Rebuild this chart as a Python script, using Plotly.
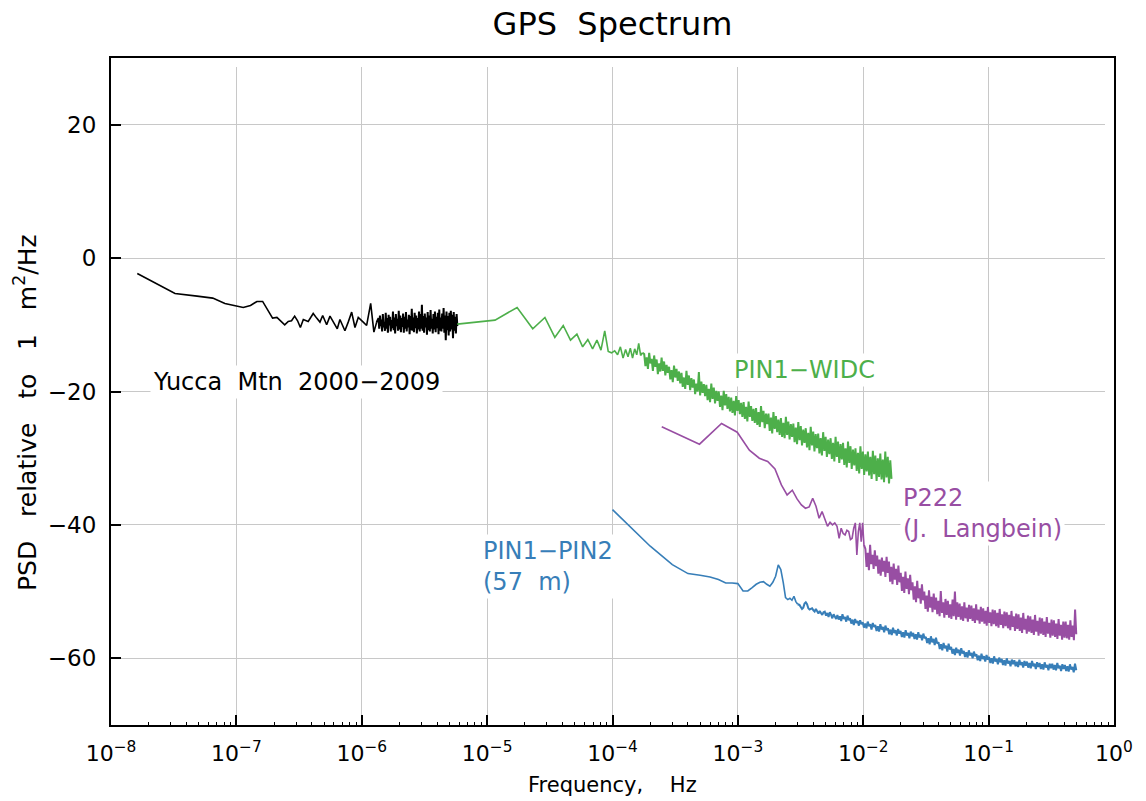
import numpy as np
import plotly.graph_objects as go

# ---------------- axis ticks ----------------
X_TICK_VALS = [1e-8, 1e-7, 1e-6, 1e-5, 1e-4, 1e-3, 1e-2, 1e-1, 1e0]
X_TICK_TEXT = ["10<sup>−8</sup>", "10<sup>−7</sup>", "10<sup>−6</sup>", "10<sup>−5</sup>",
               "10<sup>−4</sup>", "10<sup>−3</sup>", "10<sup>−2</sup>", "10<sup>−1</sup>",
               "10<sup>0</sup>"]
Y_TICK_VALS = [-60, -40, -20, 0, 20]

# ---------------- Yucca Mtn (black) ----------------
BLACK_DF = 1.62e-8
BLACK_BINS = list(range(1, 21))
BLACK_VALS = [-2.3, -5.3, -5.7, -6.0, -6.8, -7.1, -7.4, -7.1, -6.5, -6.5,
              -7.7, -9.0, -8.9, -9.4, -10.0, -9.5, -9.4, -8.7, -9.4, -10.4]
BLACK_MID_F = [3.42e-7, 3.74e-7, 4.10e-7, 4.37e-7, 4.64e-7, 4.88e-7, 5.25e-7, 5.58e-7,
               5.92e-7, 6.38e-7, 6.70e-7, 7.34e-7, 7.80e-7, 8.31e-7, 8.83e-7, 9.38e-7,
               1.028e-6, 1.094e-6, 1.178e-6, 1.25e-6, 1.315e-6]
BLACK_MID_VALS = [-9.2, -9.5, -8.3, -9.0, -9.6, -8.6, -10.0, -8.7,
                  -9.6, -10.6, -9.2, -10.9, -9.6, -8.1, -10.4, -8.9,
                  -9.6, -10.1, -6.8, -11.1, -9.6]
BLACK_BAND_START, BLACK_BAND_END = 1.36e-6, 5.787e-6
BLACK_BAND_VALS = [
    -9.0, -10.6, -8.6, -10.2, -9.2, -11.0, -8.4, -10.4, -9.6, -10.9,
    -8.2, -10.6, -9.0, -11.2, -8.5, -10.1, -8.8, -11.0, -9.3, -10.5,
    -8.0, -10.8, -8.9, -11.3, -8.4, -10.2, -9.1, -10.9, -7.9, -10.7,
    -8.6, -11.1, -9.0, -10.3, -8.3, -11.2, -8.8, -10.6, -8.1, -11.0,
    -9.2, -10.4, -8.5, -11.4, -8.7, -10.8, -7.6, -10.9, -8.9, -11.1,
    -8.2, -10.5, -8.6, -11.3, -9.0, -10.7, -8.0, -11.0, -8.4, -10.6,
    -7.0, -10.9, -8.7, -11.2, -8.3, -10.4, -8.9, -11.5, -8.1, -10.8,
    -8.6, -11.0, -7.8, -10.6, -9.1, -11.3, -8.4, -10.7, -8.0, -11.1,
    -8.8, -10.5, -8.2, -11.4, -7.7, -10.9, -8.9, -11.0, -8.3, -10.6,
    -7.5, -11.2, -8.6, -12.3, -8.0, -10.8, -8.7, -11.6, -8.2, -11.0,
    -7.9, -10.7, -8.5, -12.0, -8.1, -10.9, -8.8, -11.3, -8.4, -10.2]

# ---------------- PIN1-WIDC (green) ----------------
GREEN_DF = 5.78e-6
GREEN_BINS = list(range(1, 31))
GREEN_VALS = [-9.9, -9.3, -7.4, -10.6, -8.9, -11.9, -10.1, -12.3, -11.4, -13.3,
              -12.2, -13.6, -12.3, -13.8, -10.9, -14.0, -14.2, -13.9, -14.5, -13.3,
              -15.0, -13.7, -14.8, -13.5, -15.0, -13.6, -14.5, -12.8, -14.6, -14.2]
GREEN_BAND_START, GREEN_BAND_END = 1.79e-4, 1.68e-2
GREEN_BAND_VALS = [
    -14.4, -16.2, -14.9, -16.6, -14.2, -15.8, -15.1, -16.9, -14.6, -16.3,
    -15.2, -17.4, -15.8, -17.0, -14.9, -16.9, -15.5, -17.6, -16.0, -17.2,
    -16.3, -18.2, -16.8, -18.6, -16.1, -17.9, -16.6, -18.4, -17.0, -18.8,
    -17.2, -19.3, -17.9, -19.6, -16.9, -19.0, -17.6, -19.8, -18.0, -19.4,
    -18.2, -20.4, -18.8, -20.0, -17.1, -20.6, -18.5, -20.2, -18.9, -20.7,
    -19.0, -21.3, -19.6, -21.6, -18.8, -21.1, -19.4, -21.8, -19.9, -21.4,
    -20.0, -22.3, -20.6, -22.8, -19.9, -22.1, -20.4, -22.6, -20.8, -23.0,
    -20.9, -23.2, -21.4, -23.6, -20.7, -22.9, -21.3, -23.4, -21.7, -23.8,
    -21.6, -24.1, -22.3, -24.5, -21.5, -23.8, -22.2, -24.4, -22.6, -24.7,
    -22.5, -25.0, -23.1, -25.3, -22.2, -24.6, -22.9, -25.5, -23.3, -24.9,
    -23.3, -25.9, -23.9, -26.3, -23.1, -25.6, -23.7, -26.1, -24.2, -26.5,
    -24.0, -26.8, -24.7, -27.0, -23.8, -26.5, -24.5, -27.2, -24.9, -26.8,
    -24.8, -27.6, -25.4, -27.9, -24.6, -27.3, -25.2, -28.1, -25.7, -27.7,
    -25.5, -28.4, -26.2, -28.8, -25.3, -28.1, -26.0, -29.0, -26.4, -28.5,
    -26.3, -29.3, -27.0, -29.6, -26.1, -28.9, -26.8, -29.8, -27.2, -29.4,
    -27.0, -30.1, -27.7, -30.5, -26.8, -29.8, -27.5, -30.7, -27.9, -30.2,
    -27.7, -31.0, -28.5, -31.4, -27.5, -30.7, -28.2, -31.6, -28.7, -31.1,
    -28.5, -31.9, -29.2, -32.3, -28.2, -31.6, -29.0, -32.5, -29.4, -32.0,
    -29.0, -32.6, -29.8, -33.1, -28.9, -32.4, -29.6, -33.4, -30.0, -32.8,
    -29.3, -33.2, -30.2, -33.6, -29.0, -32.9, -29.8, -33.8, -30.3, -33.1]

# ---------------- P222 (purple) ----------------
PURPLE_DF = 2.47e-4
PURPLE_BINS = list(range(1, 42))
PURPLE_VALS = [-25.3, -27.9, -24.8, -26.1, -28.8, -30.0, -30.5, -31.6, -34.0, -35.5,
               -34.8, -36.1, -37.0, -37.5, -37.3, -36.0, -37.2, -39.0, -38.0, -39.0,
               -40.2, -39.6, -40.0, -39.7, -40.2, -42.0, -40.5, -41.3, -41.5, -40.8,
               -41.0, -42.2, -42.0, -40.5, -39.7, -44.5, -41.0, -39.7, -42.5, -39.7,
               -43.0]
PURPLE_BAND_START, PURPLE_BAND_END = 1.04e-2, 0.5
PURPLE_BAND_VALS = [
    -43.6, -46.3, -44.2, -46.8, -43.0, -45.9, -44.5, -46.6, -43.8, -46.2,
    -44.6, -47.3, -45.2, -47.6, -44.9, -47.0, -45.4, -47.8, -44.8, -47.2,
    -45.5, -48.5, -46.3, -48.9, -45.8, -48.2, -46.6, -49.0, -46.1, -48.6,
    -47.2, -49.9, -47.8, -50.2, -47.0, -49.6, -48.0, -50.4, -47.5, -49.8,
    -48.6, -51.2, -49.2, -51.6, -48.4, -51.0, -49.5, -51.8, -48.9, -51.3,
    -50.0, -52.6, -50.6, -53.0, -49.8, -52.4, -50.8, -53.1, -50.3, -52.7,
    -50.9, -53.4, -51.4, -53.7, -49.9, -53.2, -51.6, -53.9, -51.1, -53.5,
    -51.4, -53.9, -51.9, -54.1, -51.2, -53.7, -50.0, -54.2, -51.6, -53.8,
    -51.8, -54.2, -52.2, -54.4, -51.6, -54.0, -52.4, -54.5, -52.0, -54.1,
    -52.1, -54.4, -52.5, -54.7, -51.9, -54.3, -52.7, -54.8, -52.3, -54.5,
    -52.5, -54.8, -52.9, -55.1, -52.3, -54.7, -53.1, -55.2, -52.7, -54.9,
    -52.8, -55.2, -53.2, -55.4, -52.6, -55.0, -53.4, -55.5, -53.0, -55.2,
    -53.1, -55.5, -53.5, -55.8, -52.9, -55.3, -53.7, -55.9, -53.3, -55.6,
    -53.4, -55.9, -53.9, -56.2, -53.2, -55.7, -54.1, -56.3, -53.6, -56.0,
    -53.7, -56.2, -54.2, -56.5, -53.5, -56.0, -54.4, -56.6, -53.9, -56.3,
    -54.0, -56.5, -54.5, -56.8, -53.8, -56.3, -54.7, -56.9, -54.2, -56.6,
    -54.3, -56.8, -54.8, -57.1, -54.1, -56.6, -55.0, -57.2, -54.5, -56.9,
    -54.5, -57.0, -55.0, -57.2, -54.3, -56.8, -55.1, -57.3, -52.7, -56.4]

# ---------------- PIN1-PIN2 (blue) ----------------
BLUE_DF = 1.0e-4
BLUE_BINS = list(range(1, 31))
BLUE_VALS = [-37.7, -43.2, -45.95, -47.3, -47.55, -47.8, -48.2, -48.7, -48.7, -48.8,
             -49.9, -49.9, -49.4, -48.9, -48.6, -48.5, -48.9, -49.2, -48.6, -47.7,
             -46.0, -46.7, -48.6, -50.9, -51.2, -51.0, -51.3, -50.7, -51.5, -51.9]
BLUE_BAND_START, BLUE_BAND_END = 3.1e-3, 0.5
BLUE_BAND_VALS = [
    -52.0, -52.3, -52.6, -52.4, -51.8, -51.6, -51.9, -52.5, -52.7, -52.6,
    -52.5, -52.8, -53.0, -52.6, -53.1, -53.3, -52.9, -53.2, -53.5, -53.1,
    -53.0, -53.6, -53.2, -53.8, -53.1, -53.5, -54.0, -53.4, -53.7, -54.1,
    -53.5, -54.2, -53.7, -54.4, -53.4, -54.1, -53.8, -54.5, -53.6, -54.3,
    -54.0, -54.8, -54.2, -55.0, -54.1, -54.7, -54.4, -55.1, -54.3, -54.9,
    -54.6, -55.4, -54.8, -55.5, -54.5, -55.2, -54.9, -55.7, -54.7, -55.3,
    -55.0, -55.9, -55.2, -56.0, -54.9, -55.7, -55.3, -56.1, -55.1, -55.8,
    -55.5, -56.4, -55.7, -56.5, -55.4, -56.2, -55.8, -56.6, -55.6, -56.3,
    -55.9, -56.8, -56.1, -56.9, -55.8, -56.6, -56.2, -57.0, -56.0, -56.7,
    -56.2, -57.1, -56.4, -57.2, -56.1, -56.9, -56.5, -57.3, -56.3, -57.0,
    -56.8, -57.7, -57.0, -57.9, -56.7, -57.6, -57.1, -58.0, -56.9, -57.8,
    -57.6, -58.6, -57.9, -58.8, -57.7, -58.5, -58.1, -59.0, -57.8, -58.7,
    -58.3, -59.3, -58.6, -59.5, -58.4, -59.2, -58.7, -59.6, -58.5, -59.3,
    -58.9, -59.8, -59.1, -59.9, -58.8, -59.6, -59.2, -60.0, -59.0, -59.7,
    -59.4, -60.3, -59.6, -60.4, -59.3, -60.1, -59.7, -60.5, -59.5, -60.2,
    -59.8, -60.7, -60.0, -60.8, -59.7, -60.5, -60.1, -60.9, -59.9, -60.6,
    -60.1, -61.0, -60.3, -61.1, -60.0, -60.8, -60.4, -61.2, -60.2, -60.9,
    -60.3, -61.2, -60.5, -61.3, -60.2, -61.0, -60.6, -61.4, -60.4, -61.1,
    -60.5, -61.4, -60.7, -61.5, -60.4, -61.2, -60.8, -61.6, -60.6, -61.3,
    -60.7, -61.6, -60.9, -61.7, -60.6, -61.4, -61.0, -61.8, -60.8, -61.5,
    -60.8, -61.7, -61.0, -61.8, -60.7, -61.5, -61.1, -61.9, -60.9, -61.6,
    -61.0, -61.9, -61.2, -62.0, -60.9, -61.7, -61.3, -62.1, -60.8, -61.8]

COLORS = {"black": "#000000", "green": "#4daf4a", "purple": "#984ea3", "blue": "#377eb8"}
FONT = "DejaVu Sans"
NB = "\u00a0"


def sparse_part(df, bins, vals, mid_f=None, mid_vals=None):
    f = list(df * np.array(bins, dtype=float))
    v = list(vals)
    if mid_f is not None:
        f += list(mid_f)
        v += list(mid_vals)
    return f, v


def band_part(start, end, vals, prev_f, prev_v):
    # band continues from the last point of the sparse part
    f = [prev_f[-1]] + list(np.geomspace(start, end, len(vals)))
    v = [prev_v[-1]] + list(vals)
    return f, v


series = []
bf, bv = sparse_part(BLACK_DF, BLACK_BINS, BLACK_VALS, BLACK_MID_F, BLACK_MID_VALS)
series.append((COLORS["black"], (bf, bv),
               band_part(BLACK_BAND_START, BLACK_BAND_END, BLACK_BAND_VALS, bf, bv)))
gf, gv = sparse_part(GREEN_DF, GREEN_BINS, GREEN_VALS)
series.append((COLORS["green"], (gf, gv),
               band_part(GREEN_BAND_START, GREEN_BAND_END, GREEN_BAND_VALS, gf, gv)))
pf, pv = sparse_part(PURPLE_DF, PURPLE_BINS, PURPLE_VALS)
series.append((COLORS["purple"], (pf, pv),
               band_part(PURPLE_BAND_START, PURPLE_BAND_END, PURPLE_BAND_VALS, pf, pv)))
uf, uv = sparse_part(BLUE_DF, BLUE_BINS, BLUE_VALS)
series.append((COLORS["blue"], (uf, uv),
               band_part(BLUE_BAND_START, BLUE_BAND_END, BLUE_BAND_VALS, uf, uv)))

fig = go.Figure()
for color, (sx, sy), (dx, dy) in series:
    fig.add_trace(go.Scatter(x=sx, y=sy, mode="lines", line=dict(color=color, width=1.6),
                             showlegend=False, hoverinfo="skip"))
    fig.add_trace(go.Scatter(x=dx, y=dy, mode="lines", line=dict(color=color, width=2.0),
                             showlegend=False, hoverinfo="skip"))

# dummy trace for overlay axes (white inner ticks at top/right like the original)
fig.add_trace(go.Scatter(x=[], y=[], xaxis="x2", yaxis="y2", showlegend=False))

minor_vals = [m * 10.0 ** e for e in range(-8, 0) for m in range(2, 10)]

fig.update_layout(
    template="none",
    width=1146, height=801,
    margin=dict(l=111, r=32, t=58, b=76, pad=0, autoexpand=False),
    paper_bgcolor="white", plot_bgcolor="white",
    font=dict(family=FONT, color="black", size=22),
    title=dict(text="GPS" + NB * 2 + "Spectrum", x=0.5, xref="paper", xanchor="center",
               y=1 - 24 / 801, yref="container", yanchor="middle",
               font=dict(family=FONT, size=32, color="black")),
    xaxis=dict(type="log", range=[-8, 0], tickmode="array", tickvals=X_TICK_VALS,
               ticktext=X_TICK_TEXT, ticks="inside", ticklen=10, tickwidth=2,
               tickcolor="black", showline=True, linecolor="black", linewidth=2,
               mirror=True, showgrid=True, gridcolor="#c8c8c8", gridwidth=1,
               zeroline=False, ticklabelstandoff=8, automargin=False,
               tickfont=dict(family=FONT, size=22, color="black"),
               minor=dict(tickmode="array", tickvals=minor_vals, ticks="inside",
                          ticklen=3, tickwidth=1, tickcolor="black", showgrid=False)),
    yaxis=dict(range=[-70, 30], tickmode="array", tickvals=Y_TICK_VALS, ticks="inside",
               ticklen=10, tickwidth=2, tickcolor="black", showline=True,
               linecolor="black", linewidth=2, mirror=True, showgrid=True,
               gridcolor="#c8c8c8", gridwidth=1, zeroline=False, ticklabelstandoff=8,
               automargin=False, tickfont=dict(family=FONT, size=23, color="black")),
    xaxis2=dict(type="log", range=[-8, 0], overlaying="x", side="top", anchor="y2",
                tickmode="array", tickvals=X_TICK_VALS[1:-1], ticks="inside", ticklen=9,
                tickwidth=3, tickcolor="white", showticklabels=False, showgrid=False,
                showline=False, zeroline=False, automargin=False),
    yaxis2=dict(range=[-70, 30], overlaying="y", side="right", anchor="x2",
                tickmode="array", tickvals=Y_TICK_VALS, ticks="inside", ticklen=9,
                tickwidth=3, tickcolor="white", showticklabels=False, showgrid=False,
                showline=False, zeroline=False, automargin=False),
)

annots = [
    dict(text="Yucca" + NB * 2 + "Mtn" + NB * 2 + "2000−2009", x=np.log10(3.0e-7), y=-18.6,
         color=COLORS["black"], xanchor="center"),
    dict(text="PIN1−WIDC", x=-2.466, y=-16.8, color=COLORS["green"], xanchor="center"),
    dict(text="P222<br>(J." + NB * 2 + "Langbein)", x=-1.705, y=-38.3,
         color=COLORS["purple"], xanchor="left"),
    dict(text="PIN1−PIN2<br>(57" + NB * 2 + "m)", x=-5.055, y=-46.2,
         color=COLORS["blue"], xanchor="left"),
]
for a in annots:
    fig.add_annotation(text=a["text"], x=a["x"], y=a["y"], xref="x", yref="y",
                       xanchor=a["xanchor"], yanchor="middle", align="left",
                       showarrow=False, bgcolor="white", borderpad=2,
                       font=dict(family=FONT, size=24, color=a["color"]))

# axis titles
fig.add_annotation(text="Frequency," + NB * 4 + "Hz", xref="paper", yref="paper",
                   x=0.5, y=-(785 - 725) / 667, xanchor="center", yanchor="middle",
                   showarrow=False, font=dict(family=FONT, size=21, color="black"))
fig.add_annotation(text="PSD" + NB * 3 + "relative" + NB * 3 + "to" + NB * 3 + "1" + NB * 3
                   + "m<sup>2</sup>/Hz", xref="paper", yref="paper",
                   x=(25 - 111) / 1003, y=(725 - 413) / 667, xanchor="center",
                   yanchor="middle", textangle=-90, showarrow=False,
                   font=dict(family=FONT, size=25, color="black"))

# remove the browser's default page margin so the figure sits at the window origin
fig.write_html("out.html", config={"displayModeBar": False},
               post_script="document.body.style.margin='0';")
